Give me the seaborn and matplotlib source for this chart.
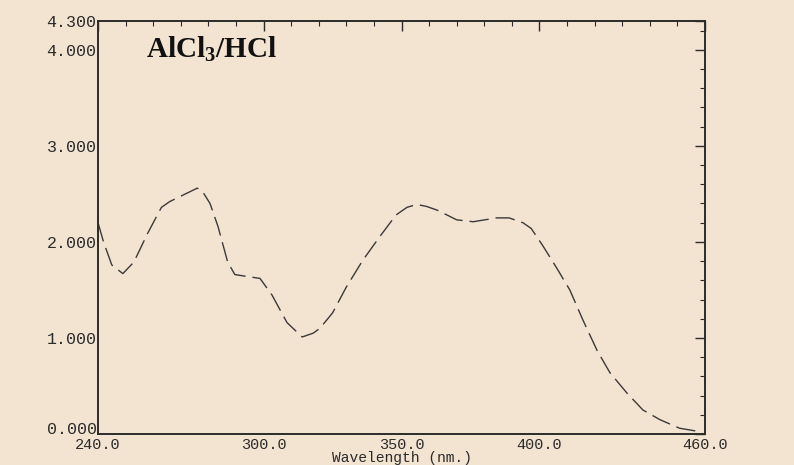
import matplotlib
matplotlib.use("Agg")
import matplotlib.pyplot as plt
import seaborn as sns
import numpy as np

# Data
wavelength = [240, 242, 245, 249, 253, 258, 263, 266, 271, 276, 278, 280.6, 283.5,
              287, 289.6, 294, 298.7, 303, 308.5, 314, 318, 320.4, 325, 330, 336,
              342, 348, 352, 355.5, 359, 363, 370, 376, 384.5, 389, 394, 397, 401,
              406, 411, 415.7, 420.8, 425.5, 431.6, 437.5, 443.6, 450.8, 459]
absorbance = [2.20, 2.00, 1.76, 1.67, 1.79, 2.09, 2.36, 2.42, 2.49, 2.56, 2.52, 2.40, 2.16,
              1.79, 1.66, 1.64, 1.62, 1.45, 1.16, 1.01, 1.05, 1.10, 1.26, 1.53, 1.81,
              2.05, 2.28, 2.36, 2.39, 2.37, 2.33, 2.23, 2.21, 2.25, 2.25, 2.20, 2.14, 1.97,
              1.74, 1.50, 1.19, 0.875, 0.64, 0.43, 0.25, 0.15, 0.06, 0.02]

x_ticks = [240, 300, 350, 400, 460]
x_tick_labels = ["240.0", "300.0", "350.0", "400.0", "460.0"]
y_ticks = [0, 1, 2, 3, 4, 4.3]
y_tick_labels = ["0.000", "1.000", "2.000", "3.000", "4.000", "4.300"]
title_text = r"AlCl$_\mathbf{3}$/HCl"
x_label = "Wavelength (nm.)"

bg = "#F3E3D1"
ink = "#2b2b2b"

sns.set_theme(style="white")
plt.rcParams["font.family"] = ["Liberation Mono", "DejaVu Sans"]
plt.rcParams["mathtext.fontset"] = "custom"
plt.rcParams["mathtext.bf"] = "Liberation Serif:bold"
plt.rcParams["mathtext.rm"] = "Liberation Serif:bold"

fig = plt.figure(figsize=(7.94, 4.65), dpi=100, facecolor=bg)
ax = fig.add_axes([98 / 794, 1 - 434 / 465, 607 / 794, 413 / 465])
ax.set_facecolor(bg)

sns.lineplot(x=wavelength, y=absorbance, ax=ax, color="#3a3a3a", linewidth=1.0,
             dashes=False, legend=False)
ax.lines[0].set_dashes((14, 5))

ax.set_xlim(240, 460)
ax.set_ylim(0, 4.3)

ax.set_xticks(x_ticks)
ax.set_xticklabels(x_tick_labels)
ax.set_xticks(np.arange(250, 460, 10), minor=True)
ax.set_yticks(y_ticks)
ax.set_yticklabels(y_tick_labels)
ax.set_yticks(np.arange(0.2, 4.3, 0.2), minor=True)

ax.tick_params(axis="both", which="major", direction="in", length=7, width=1.0,
               color=ink, labelcolor=ink, top=True, right=True)
ax.tick_params(axis="both", which="minor", direction="in", length=3.5, width=0.8,
               color=ink, top=True, right=True)
ax.tick_params(axis="x", which="major", pad=3, labelsize=11)
ax.tick_params(axis="y", which="major", pad=1, labelsize=12)

# lift the "0.000" label so it sits just above the x tick labels
ax.get_yticklabels()[0].set_va("baseline")

for s in ax.spines.values():
    s.set_color(ink)
    s.set_linewidth(1.4)
    s.set_visible(True)

ax.set_xlabel(x_label, fontsize=10.5, color=ink)
ax.xaxis.set_label_coords(0.5, -1 / 413, transform=ax.transAxes)
ax.xaxis.label.set_va("bottom")
ax.xaxis.set_label_coords(0.5, 0.0)
ax.xaxis.label.set_transform(
    matplotlib.transforms.blended_transform_factory(ax.transAxes, fig.transFigure))
ax.xaxis.label.set_position((0.5, 0.0))
ax.set_ylabel("")
ax.grid(False)

ax.text(146 / 794, 1 - 49 / 465, title_text, transform=fig.transFigure,
        fontsize=21, fontweight="bold", family="Liberation Serif",
        ha="left", va="center", color="#111111")

fig.savefig("out.png", dpi=100, facecolor=bg)
